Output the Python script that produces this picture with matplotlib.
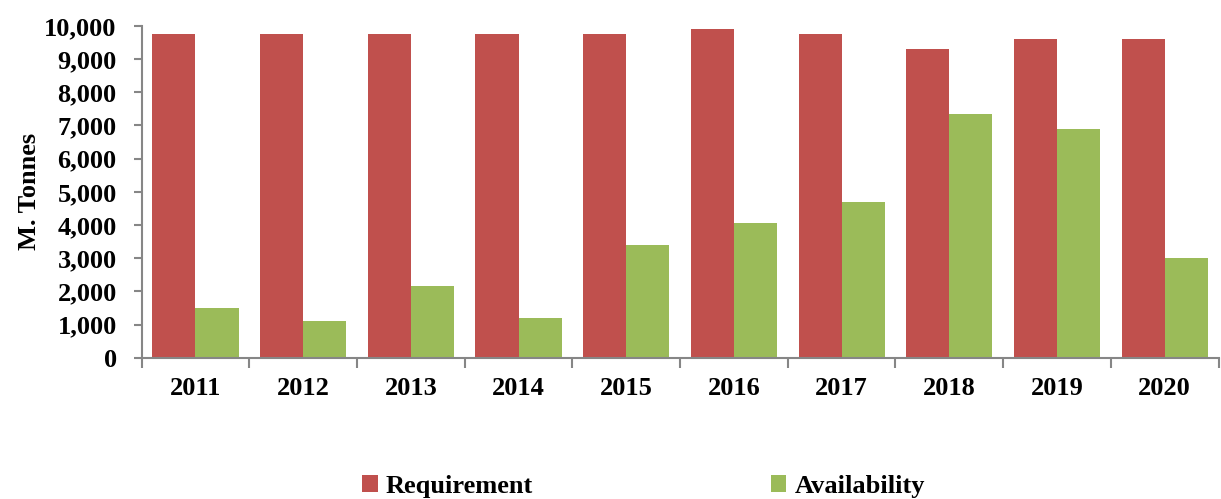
import matplotlib.pyplot as plt
import numpy as np
from matplotlib.ticker import FuncFormatter

plt.rcParams['font.family'] = ['Liberation Serif', 'DejaVu Serif']
plt.rcParams['font.weight'] = 'bold'

years = ['2011', '2012', '2013', '2014', '2015', '2016', '2017', '2018', '2019', '2020']
requirement = [9750, 9750, 9750, 9750, 9750, 9900, 9750, 9300, 9600, 9600]
availability = [1500, 1100, 2150, 1200, 3400, 4050, 4700, 7350, 6900, 3000]

fig = plt.figure(figsize=(12.21, 4.99), dpi=100)
ax = fig.add_axes([0.116, 0.283, 0.882, 0.665])

x = np.arange(len(years))
w = 0.4
ax.bar(x - w / 2, requirement, w, color='#C0504D', label='Requirement')
ax.bar(x + w / 2, availability, w, color='#9BBB59', label='Availability')

ax.set_xlim(-0.5, len(years) - 0.5)
ax.set_ylim(0, 10000)
ax.set_yticks(np.arange(0, 10001, 1000))
ax.yaxis.set_major_formatter(FuncFormatter(lambda v, p: f'{int(v):,}'))

ax.set_xticks(x)
ax.set_xticklabels(years)
ax.set_xticks(np.arange(-0.5, len(years), 1), minor=True)
ax.tick_params(axis='x', which='major', length=0, pad=14, labelsize=19)
ax.tick_params(axis='x', which='minor', length=7, color='#868686', width=1.5)
ax.tick_params(axis='y', length=6, color='#868686', width=1.5, labelsize=19, pad=12)

for s in ['top', 'right']:
    ax.spines[s].set_visible(False)
for s in ['left', 'bottom']:
    ax.spines[s].set_color('#868686')
    ax.spines[s].set_linewidth(1.5)

ax.set_ylabel('M. Tonnes', fontsize=19, fontweight='bold', labelpad=2)

fig.legend(loc='lower center', bbox_to_anchor=(0.527, -0.045), ncol=2, frameon=False,
           fontsize=19, handlelength=0.6, handleheight=0.6, handletextpad=0.3,
           columnspacing=9.0)

fig.savefig('out.png', dpi=100)
